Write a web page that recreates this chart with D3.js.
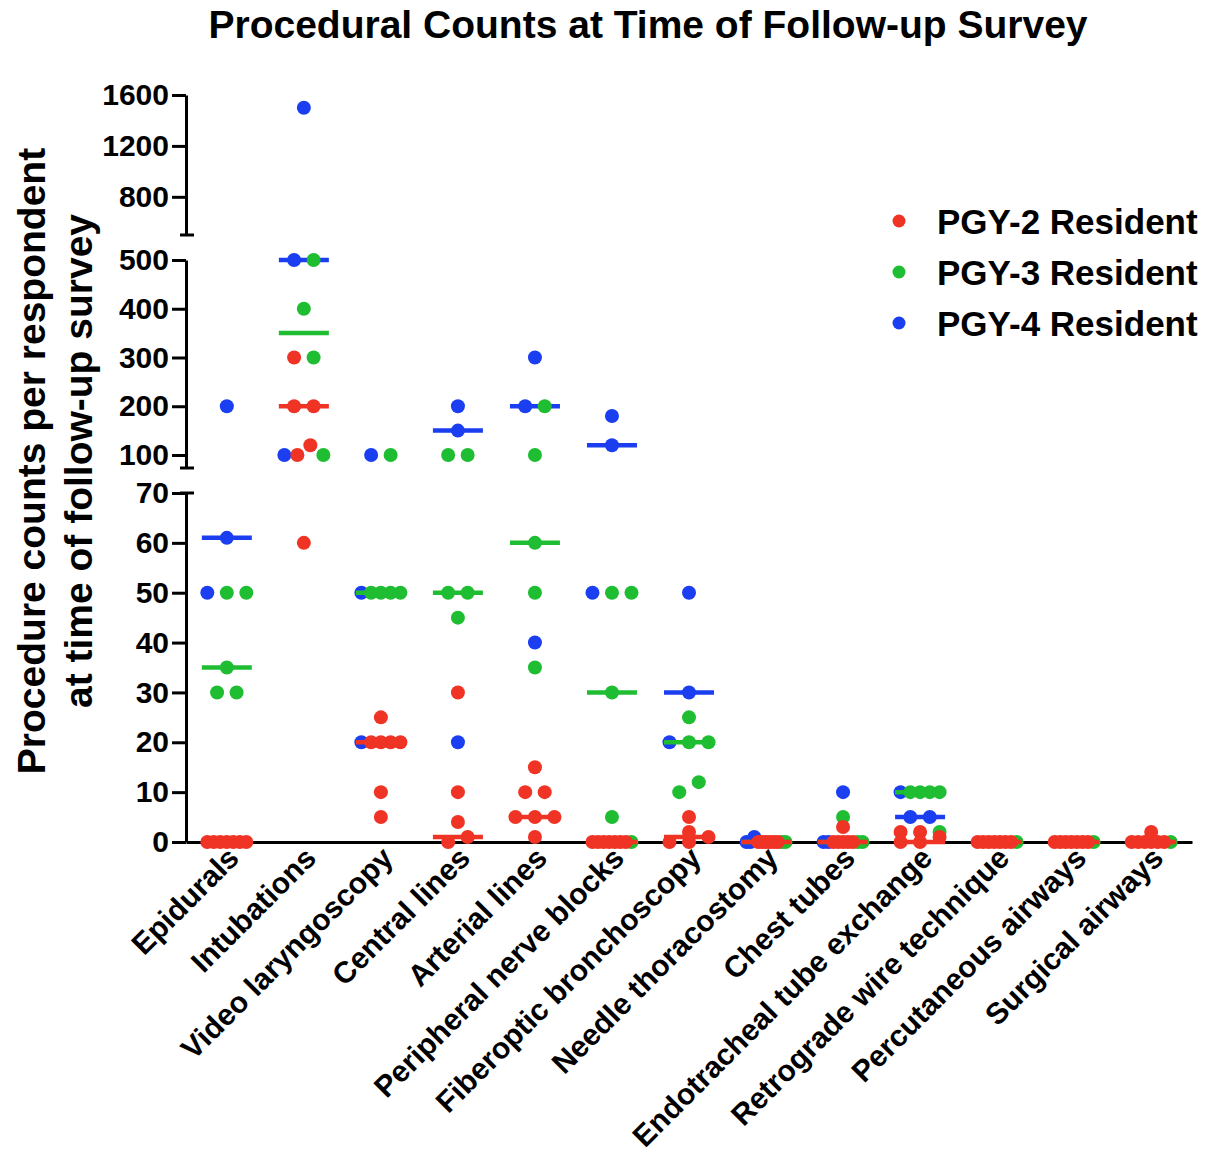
<!DOCTYPE html>
<html>
<head>
<meta charset="utf-8">
<script src="https://cdn.jsdelivr.net/npm/d3@7"></script>
<style>
  html, body { margin: 0; padding: 0; background: #fff; }
  svg { display: block; font-family: "Liberation Sans", Arial, Helvetica, sans-serif; font-weight: bold; }
</style>
</head>
<body>
<svg id="chart" width="1209" height="1162"></svg>
<script>
// ---------------- DATA ----------------
const categories = [
  "Epidurals", "Intubations", "Video laryngoscopy", "Central lines", "Arterial lines",
  "Peripheral nerve blocks", "Fiberoptic bronchoscopy", "Needle thoracostomy", "Chest tubes",
  "Endotracheal tube exchange", "Retrograde wire technique", "Percutaneous airways", "Surgical airways"
];
const seriesNames = ["PGY-2 Resident", "PGY-3 Resident", "PGY-4 Resident"];

// PGY-2 (red) individual counts
const pgy2 = [
  [0, 0, 0, 0, 0, 0, 0],
  [300, 200, 200, 120, 100, 60],
  [25, 20, 20, 20, 20, 10, 5],
  [30, 10, 4, 1, 0],
  [15, 10, 10, 5, 5, 5, 1],
  [0, 0, 0, 0, 0, 0, 0],
  [5, 2, 1, 0, 0],
  [0, 0, 0, 0, 0, 0],
  [3, 0, 0, 0, 0, 0],
  [2, 2, 1, 0, 0],
  [0, 0, 0, 0, 0, 0, 0],
  [0, 0, 0, 0, 0, 0, 0],
  [2, 0, 0, 0, 0, 0, 0]
];
// PGY-3 (green) individual counts
const pgy3 = [
  [50, 50, 35, 30, 30],
  [500, 400, 300, 100],
  [100, 50, 50, 50, 50],
  [100, 100, 50, 50, 45],
  [200, 100, 60, 50, 35],
  [50, 50, 30, 5, 0],
  [25, 20, 20, 12, 10],
  [0, 0],
  [5, 0, 0],
  [10, 10, 10, 10, 2],
  [0],
  [0],
  [0]
];
// PGY-4 (blue) individual counts
const pgy4 = [
  [200, 61, 50],
  [1500, 500, 100],
  [100, 50, 20],
  [200, 150, 20],
  [300, 200, 40],
  [180, 120, 50],
  [50, 30, 20],
  [1, 0, 0],
  [10, 0, 0],
  [10, 5, 5],
  [],
  [],
  []
];
// Median bars as shown in the figure (null = none)
const pgy2Median = [0, 200, 20, 1, 5, 0, 1, 0, 0, 0, 0, 0, 0];
const pgy3Median = [35, 350, 50, 50, 60, 30, 20, 0, 0, 10, 0, 0, 0];
const pgy4Median = [61, 500, 50, 150, 200, 120, 30, 0, 0, 5, null, null, null];

const bottomTicks = [0, 10, 20, 30, 40, 50, 60, 70];
const middleTicks = [100, 200, 300, 400, 500];
const topTicks = [800, 1200, 1600];
const bottomDomain = [0, 70];
const middleDomain = [73.3, 500];
const topDomain = [500, 1600];

// ---------------- STYLE / LAYOUT ----------------
const colors = ["#ef3325", "#1fbd32", "#1a3ef0"];
const axisX = 186, axisY = 842;
const svg = d3.select("#chart");

const x = d3.scalePoint().domain(categories).range([axisX, 1192]).padding(0.53);
const yBottom = d3.scaleLinear().domain(bottomDomain).range([axisY, 493]);
const yMiddle = d3.scaleLinear().domain(middleDomain).range([468, 260]);
const yTop = d3.scaleLinear().domain(topDomain).range([235, 95]);
function yPos(v) {
  if (v <= bottomDomain[1]) return yBottom(v);
  if (v <= middleDomain[1]) return yMiddle(v);
  return yTop(v);
}

// Title
svg.append("text")
  .attr("x", 648).attr("y", 38)
  .attr("text-anchor", "middle")
  .attr("font-size", 39)
  .text("Procedural Counts at Time of Follow-up Survey");

// Y axis title (two lines)
const yTitle = ["Procedure counts per respondent", "at time of follow-up survey"];
yTitle.forEach((t, i) => {
  svg.append("text")
    .attr("transform", `translate(${45 + i * 47},461) rotate(-90)`)
    .attr("text-anchor", "middle")
    .attr("font-size", 39)
    .text(t);
});

// Y axes (three segments)
function drawY(scale, ticks) {
  const g = svg.append("g")
    .attr("transform", `translate(${axisX},0)`)
    .call(d3.axisLeft(scale).tickValues(ticks).tickSize(14).tickSizeOuter(0).tickPadding(3).tickFormat(d3.format("d")));
  g.selectAll("path, line").attr("stroke", "#000").attr("stroke-width", 3);
  g.selectAll("text").attr("font-size", 30).attr("font-weight", "bold").attr("fill", "#000")
    .attr("font-family", "'Liberation Sans', Arial, sans-serif");
  return g;
}
drawY(yBottom, bottomTicks);
drawY(yMiddle, middleTicks);
drawY(yTop, topTicks);

// Break caps at the segment ends
[yBottom(bottomDomain[1]), yMiddle(middleDomain[0]), yTop(topDomain[0])].forEach(yy => {
  svg.append("line")
    .attr("x1", axisX - 6).attr("x2", axisX + 8)
    .attr("y1", yy).attr("y2", yy)
    .attr("stroke", "#000").attr("stroke-width", 3);
});

// X axis
const gx = svg.append("g")
  .attr("transform", `translate(0,${axisY})`)
  .call(d3.axisBottom(x).tickSize(0).tickSizeOuter(0).tickFormat(""));
gx.select("path").attr("stroke", "#000").attr("stroke-width", 3);

const xl = svg.append("g");
categories.forEach(c => {
  xl.append("text")
    .attr("transform", `translate(${x(c) - 1},${axisY + 3}) rotate(-45)`)
    .attr("text-anchor", "end")
    .attr("dy", "0.7em")
    .attr("font-size", 30)
    .text(c);
});

// ---------------- POINT LAYOUT ----------------
const series = [pgy2, pgy3, pgy4];
const medians = [pgy2Median, pgy3Median, pgy4Median];
const placeOrder = [2, 0, 1];   // within a row: blue, red, green
const drawOrder = [2, 1, 0];    // z-order: blue, green, red (red on top)
const R = 7, binH = 13.5, maxSpan = 39, maxStep = 19.5;

const placed = [];
categories.forEach((c, ci) => {
  const pts = [];
  series.forEach((s, si) => s[ci].forEach(v => pts.push({ si, v, ci, y: yPos(v) })));
  const groups = d3.group(pts, p => Math.floor((axisY - 7.5 - p.y) / binH));
  groups.forEach(g => {
    g.sort((a, b) => placeOrder.indexOf(a.si) - placeOrder.indexOf(b.si) || a.v - b.v);
    const n = g.length;
    const step = n > 1 ? Math.min(maxStep, maxSpan / (n - 1)) : 0;
    g.forEach((p, i) => { p.x = x(c) + (i - (n - 1) / 2) * step; placed.push(p); });
  });
});

drawOrder.forEach(si => {
  const g = svg.append("g");
  g.selectAll("circle")
    .data(placed.filter(p => p.si === si))
    .join("circle")
    .attr("cx", p => p.x).attr("cy", p => p.y).attr("r", R)
    .attr("fill", colors[si]);
  categories.forEach((c, ci) => {
    const m = medians[si][ci];
    if (m === null || m === undefined) return;
    g.append("line")
      .attr("x1", x(c) - 25).attr("x2", x(c) + 25)
      .attr("y1", yPos(m)).attr("y2", yPos(m))
      .attr("stroke", colors[si]).attr("stroke-width", 4.5);
  });
});

// Legend
const lg = svg.append("g");
seriesNames.forEach((name, i) => {
  const yy = 221 + i * 51;
  lg.append("circle").attr("cx", 899).attr("cy", yy).attr("r", 6.5).attr("fill", colors[i]);
  lg.append("text").attr("x", 937).attr("y", yy).attr("dy", "0.36em")
    .attr("font-size", 35).text(name);
});
</script>
</body>
</html>
